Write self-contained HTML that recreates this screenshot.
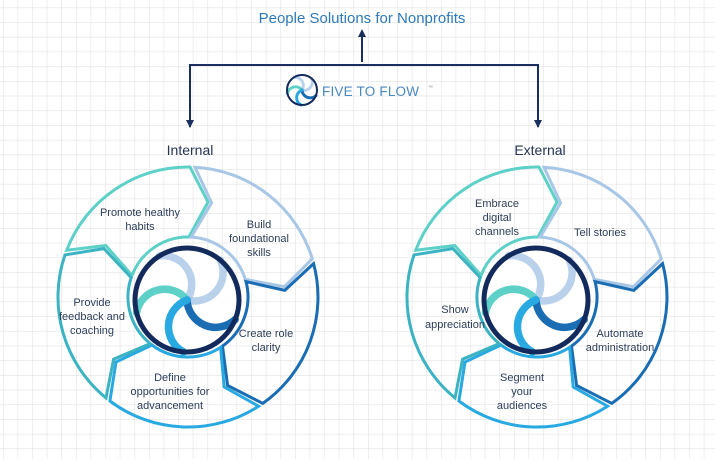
<!DOCTYPE html>
<html><head><meta charset="utf-8"><style>
html,body{margin:0;padding:0;background:#fff;}
body{width:715px;height:459px;overflow:hidden;font-family:"Liberation Sans",sans-serif;}
svg{display:block}
</style></head><body>
<svg id="s" width="715" height="459" viewBox="0 0 715 459" xmlns="http://www.w3.org/2000/svg">
<defs>
<pattern id="g" x="3" y="7.5" width="14.6" height="14.7" patternUnits="userSpaceOnUse">
<path d="M0 0H14.6M0 0V14.7" stroke="#e2e2e2" stroke-width="1.2" fill="none"/>
</pattern>
<marker id="ah" markerWidth="8" markerHeight="8" refX="4" refY="4" orient="auto" markerUnits="userSpaceOnUse">
<path d="M0 0L8 4L0 8z" fill="#1b2f5e"/>
</marker>
</defs>
<rect width="715" height="459" fill="#fff"/>
<rect width="715" height="459" fill="url(#g)"/>
<text x="362" y="23" font-size="15" fill="#2e7ab8" text-anchor="middle">People Solutions for Nonprofits</text>
<path d="M362 62V33" stroke="#1b2f5e" stroke-width="2" marker-end="url(#ah)"/>
<path d="M190 127V65H538V127" stroke="#1b2f5e" stroke-width="2" fill="none"/>
<path d="M190 128l-4-8h8z M538 128l-4-8h8z" fill="#1b2f5e"/>
<g id="mini"></g>
<text x="322" y="96" font-size="13.5" fill="#4a88c2" letter-spacing="0.2">FIVE TO FLOW</text>
<text x="428" y="89" font-size="5" fill="#888">™</text>
<text x="190" y="155" font-size="14" fill="#253553" text-anchor="middle">Internal</text>
<text x="540" y="155" font-size="14" fill="#253553" text-anchor="middle">External</text>
<g id="rings"></g>
<g font-size="11" fill="#2d3e5a" text-anchor="middle">
<text x="140" y="216">Promote healthy</text><text x="140" y="230">habits</text>
<text x="259" y="228">Build</text><text x="259" y="242">foundational</text><text x="259" y="256">skills</text>
<text x="266" y="337">Create role</text><text x="266" y="351">clarity</text>
<text x="170" y="381">Define</text><text x="170" y="395">opportunities for</text><text x="170" y="409">advancement</text>
<text x="92" y="306">Provide</text><text x="92" y="320">feedback and</text><text x="92" y="334">coaching</text>
<text x="497" y="207">Embrace</text><text x="497" y="221">digital</text><text x="497" y="235">channels</text>
<text x="600" y="236">Tell stories</text>
<text x="620" y="337">Automate</text><text x="620" y="351">administration</text>
<text x="522" y="381">Segment</text><text x="522" y="395">your</text><text x="522" y="409">audiences</text>
<text x="455" y="313">Show</text><text x="455" y="328">appreciation</text>
</g>
</svg>
<script>
var NS="http://www.w3.org/2000/svg";
function el(p,t,a){var e=document.createElementNS(NS,t);for(var k in a)e.setAttribute(k,a[k]);p.appendChild(e);return e;}
function pt(cx,cy,r,a){var t=a*Math.PI/180;return [cx+r*Math.sin(t),cy-r*Math.cos(t)];}
var cols=["#5dd0c8","#a8c6e6","#1a6db3","#28a9e1","#3bb3c2"];
var rings=document.getElementById("rings");
function ring(cx,cy){
 var R=130,r=60,rm=97,tip=11,gap=2.2,off=-70;
 for(var i=0;i<5;i++){
  var a0=off+i*72+gap/2, a1=off+(i+1)*72-gap/2;
  var d="";
  var p=pt(cx,cy,R,a0);d+="M"+p[0].toFixed(1)+" "+p[1].toFixed(1);
  p=pt(cx,cy,R,a1);d+=" A"+R+" "+R+" 0 0 1 "+p[0].toFixed(1)+" "+p[1].toFixed(1);
  p=pt(cx,cy,rm,a1+tip);d+=" L"+p[0].toFixed(1)+" "+p[1].toFixed(1);
  p=pt(cx,cy,r,a1);d+=" L"+p[0].toFixed(1)+" "+p[1].toFixed(1);
  p=pt(cx,cy,r,a0);d+=" A"+r+" "+r+" 0 0 0 "+p[0].toFixed(1)+" "+p[1].toFixed(1);
  p=pt(cx,cy,rm,a0+tip);d+=" L"+p[0].toFixed(1)+" "+p[1].toFixed(1)+"Z";
  el(rings,"path",{d:d,fill:"none",stroke:cols[i],"stroke-width":3,"stroke-linejoin":"miter"});
 }
}
function logo(g,cx,cy,R,sw){
 el(g,"circle",{cx:cx,cy:cy,r:R+sw*0.3,fill:"#fff"});
 var lc=["#a8c6e6","#1a6db3","#28a9e1","#5dd0c8","#a8c6e6"];
 var ord=[0,4,3,1,2];
 for(var j=0;j<5;j++){var i=ord[j];
  var a=i*72+40;var p=pt(cx,cy,R,a);
  el(g,"path",{d:"M"+cx+" "+cy+" A"+(R*0.55)+" "+(R*0.55)+" 0 0 0 "+p[0].toFixed(1)+" "+p[1].toFixed(1),fill:"none",stroke:lc[i],"stroke-width":sw*1.5,"stroke-linecap":"round",opacity:i==0||i==4?0.8:1});
 }
 el(g,"circle",{cx:cx,cy:cy,r:R,fill:"none",stroke:"#132a5c","stroke-width":sw});
}
ring(188,297);ring(537,297);
logo(rings,187,300,52,5);logo(rings,536,300,52,5);
logo(document.getElementById("mini"),302,90,15,2);
</script>
</body></html>
